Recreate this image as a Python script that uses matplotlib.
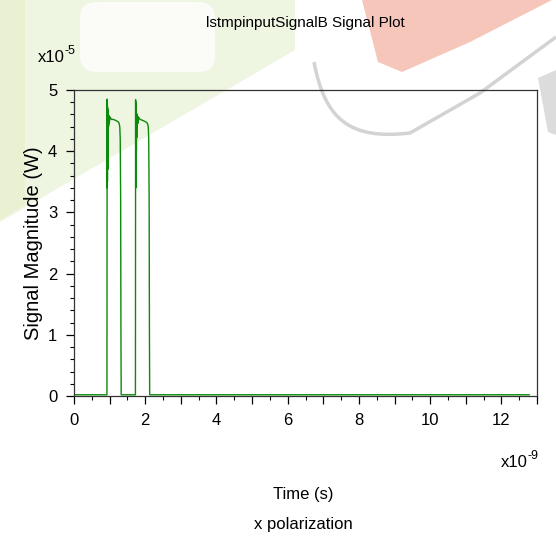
import matplotlib
matplotlib.use('Agg')
import matplotlib.pyplot as plt
from matplotlib.patches import Polygon, FancyBboxPatch
from matplotlib.path import Path
from matplotlib.patches import PathPatch
from matplotlib.ticker import MultipleLocator, FuncFormatter

# time in ns, signal in 1e-5 W
t_ns = [0.0, 0.925,
        0.930, 0.933, 0.936, 0.939, 0.942, 0.945, 0.948, 0.952, 0.956, 0.960,
        0.965, 0.970, 0.980, 0.990, 1.010, 1.050, 1.100, 1.180, 1.240, 1.265,
        1.285, 1.298, 1.310, 1.318, 1.325,
        1.725,
        1.730, 1.733, 1.736, 1.739, 1.742, 1.745, 1.748, 1.752, 1.756, 1.760,
        1.765, 1.770, 1.780, 1.790, 1.810, 1.850, 1.900, 1.980, 2.040, 2.065,
        2.085, 2.098, 2.110, 2.118, 2.125,
        12.78]
p_e5 = [0.02, 0.02,
        4.85, 3.40, 4.80, 3.50, 4.72, 3.70, 4.68, 3.95, 4.62, 4.20,
        4.60, 4.40, 4.58, 4.45, 4.56, 4.52, 4.52, 4.50, 4.48, 4.46,
        4.40, 4.20, 3.20, 1.00, 0.02,
        0.02,
        4.84, 3.40, 4.80, 3.55, 4.72, 3.75, 4.68, 4.00, 4.62, 4.22,
        4.60, 4.40, 4.58, 4.45, 4.56, 4.52, 4.51, 4.49, 4.47, 4.45,
        4.40, 4.20, 3.20, 1.00, 0.02,
        0.02]

W, H = 556, 539
plt.rcParams['font.family'] = ['Liberation Sans', 'DejaVu Sans']

fig = plt.figure(figsize=(W / 100, H / 100), dpi=100)


def px(x, y):
    return (x / W, 1 - y / H)


# faded background picture behind the plot
shapes = [
    ([(0, 0), (295, 0), (295, 50), (0, 222)], '#eef5e1'),
    ([(0, 0), (25, 0), (25, 205), (0, 220)], '#eaf1d3'),
    ([(362, 0), (552, 0), (470, 42), (402, 72), (378, 62)], '#f7c6bb'),
    ([(538, 78), (556, 70), (556, 135), (548, 132)], '#dcdcdc'),
]
for pts, col in shapes:
    fig.add_artist(Polygon([px(*p) for p in pts], closed=True, facecolor=col,
                           edgecolor='none', transform=fig.transFigure, zorder=-5))

fig.add_artist(FancyBboxPatch(px(80, 72), 135 / W, 70 / H,
                              boxstyle='round,pad=0,rounding_size=0.03',
                              transform=fig.transFigure, facecolor='#fbfcf8',
                              edgecolor='none', zorder=-4))

verts = [px(314, 62), px(325, 120), px(350, 140), px(410, 133),
         px(480, 93), px(556, 37)]
fig.add_artist(PathPatch(Path(verts, [Path.MOVETO] + [Path.CURVE4] * 3 + [Path.LINETO] * 2),
                         transform=fig.transFigure, facecolor='none',
                         edgecolor='#d3d3d3', lw=2.5, zorder=-4))

ax = fig.add_axes([74 / W, 1 - 396 / H, 463 / W, 306 / H])
ax.set_facecolor('none')

ax.plot(t_ns, p_e5, color='#0b8a0b', lw=1.0)

ax.set_xlim(0, 13)
ax.set_ylim(0, 5)
ax.xaxis.set_major_locator(MultipleLocator(1))
ax.xaxis.set_minor_locator(MultipleLocator(0.5))
ax.xaxis.set_major_formatter(FuncFormatter(lambda v, pos: '%d' % v if int(round(v)) % 2 == 0 else ''))
ax.yaxis.set_major_locator(MultipleLocator(1))
ax.yaxis.set_minor_locator(MultipleLocator(0.2))

ax.tick_params(which='major', direction='out', length=6, width=0.9, labelsize=12, pad=6)
ax.tick_params(which='minor', direction='out', length=3, width=0.8)
for s in ax.spines.values():
    s.set_linewidth(0.9)
    s.set_color('#333333')

fig.text(*px(305, 23), 'lstmpinputSignalB Signal Plot', ha='center', va='center', fontsize=11)

ax.set_ylabel('Signal Magnitude (W)', fontsize=14.5)
ax.yaxis.set_label_coords(-0.066, 0.5)

fig.text(*px(303, 495), 'Time (s)', ha='center', va='center', fontsize=12)
fig.text(*px(303, 525), 'x polarization', ha='center', va='center', fontsize=12)

t5 = fig.text(*px(38, 62), 'x10', ha='left', va='baseline', fontsize=12)
ax.annotate('-5', xy=(1, 0.55), xycoords=t5, va='bottom', ha='left', fontsize=9)
t9 = fig.text(*px(501, 467), 'x10', ha='left', va='baseline', fontsize=12)
ax.annotate('-9', xy=(1, 0.55), xycoords=t9, va='bottom', ha='left', fontsize=9)

fig.savefig('out.png', dpi=100)
plt.close(fig)
